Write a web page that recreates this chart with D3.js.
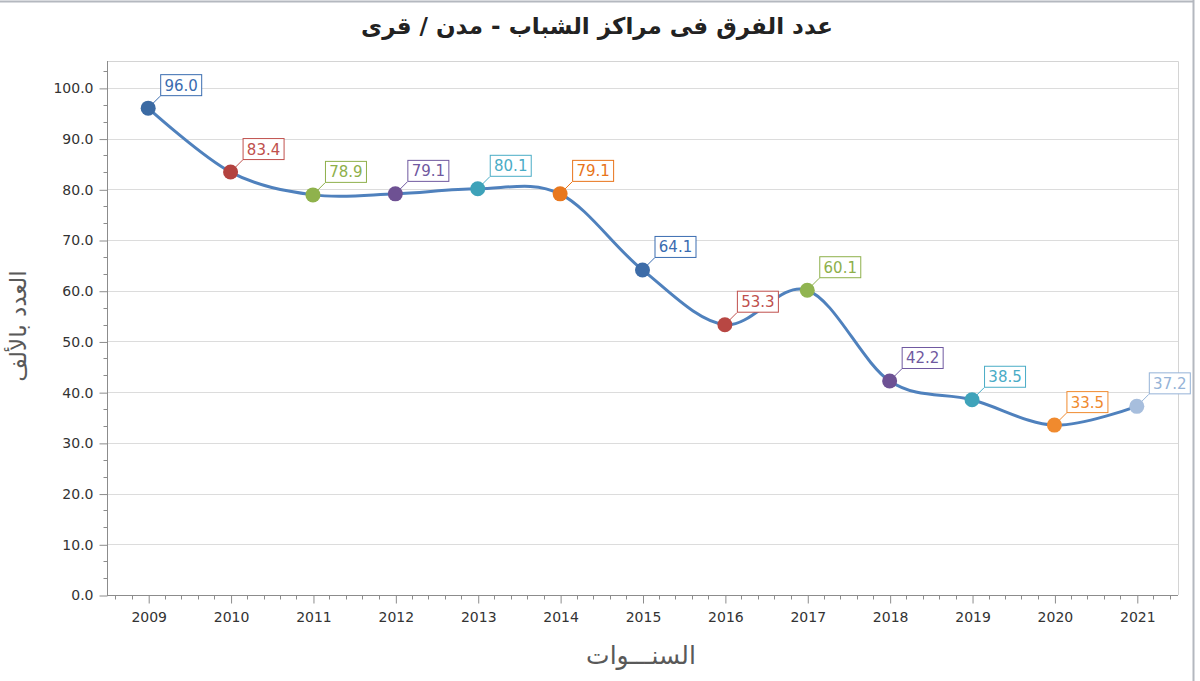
<!DOCTYPE html>
<html>
<head>
<meta charset="utf-8">
<script src="https://cdn.jsdelivr.net/npm/d3@7"></script>
<style>
  body { margin: 0; background: #fff; }
  svg { display: block; }
</style>
</head>
<body>
<script>
// chart values
var years = [2009, 2010, 2011, 2012, 2013, 2014, 2015, 2016, 2017, 2018, 2019, 2020, 2021];
var teams = [96.0, 83.4, 78.9, 79.1, 80.1, 79.1, 64.1, 53.3, 60.1, 42.2, 38.5, 33.5, 37.2];
var yTicks = [0, 10, 20, 30, 40, 50, 60, 70, 80, 90, 100];
var pointColors = ["#3b6aa3", "#b3423f", "#8fb24c", "#6e5193", "#3ea2b9", "#e8781f",
                   "#3d6ca8", "#b84743", "#90b450", "#6d5194", "#3fa3ba", "#f08a2e", "#a7bedd"];
var labelColors = ["#3a6cb0", "#c0504d", "#8eb04b", "#7059a0", "#4aacc6", "#e8741a",
                   "#3a6cb0", "#c0504d", "#8eb04b", "#7059a0", "#4aacc6", "#f08a2e", "#95b3d7"];
var title = "عدد الفرق فى مراكز الشباب - مدن / قرى";
var yTitle = "العدد بالألف";
var xTitle = "السنـــوات";

var W = 1200, H = 681;
var plotL = 107, plotR = 1178, plotT = 61, plotB = 595;

var svg = d3.select("body").append("svg")
    .attr("width", W)
    .attr("height", H);

// outer frame bits
svg.append("line").attr("x1", 0).attr("x2", 1194).attr("y1", 1.5).attr("y2", 1.5)
    .attr("stroke", "#b4b8bf").attr("stroke-width", 2);
svg.append("line").attr("x1", 1193.5).attr("x2", 1193.5).attr("y1", 0).attr("y2", H)
    .attr("stroke", "#b4b8bf").attr("stroke-width", 2);

var x = d3.scaleLinear().domain([2008.5, 2021.5]).range([plotL, plotR]);
var y = d3.scaleLinear().domain([0, 105.3]).range([plotB, plotT]);

// grid
svg.append("g").selectAll("line")
    .data(yTicks.filter(d => d > 0))
    .enter().append("line")
    .attr("x1", plotL).attr("x2", plotR)
    .attr("y1", d => Math.round(y(d)) + 0.5).attr("y2", d => Math.round(y(d)) + 0.5)
    .attr("stroke", "#dcdcdc");

// plot border top / right
svg.append("path")
    .attr("d", "M" + plotL + "," + (plotT + 0.5) + "H" + (plotR + 0.5) + "V" + plotB)
    .attr("fill", "none").attr("stroke", "#d4d4d4");

// y axis
var yAxis = d3.axisLeft(y).tickValues(yTicks).tickSize(8).tickPadding(6)
    .tickFormat(d3.format(".1f"));
var gy = svg.append("g").attr("transform", "translate(" + (plotL + 0.5) + ",0.5)").call(yAxis);
var yMinor = d3.range(1, 32).map(i => i * 10 / 3).filter(v => Math.abs(v / 10 - Math.round(v / 10)) > 0.01);
gy.selectAll(".minor").data(yMinor).enter().append("line").attr("class", "minor")
    .attr("x1", 0).attr("x2", -4)
    .attr("y1", d => Math.round(y(d))).attr("y2", d => Math.round(y(d)));
gy.select(".domain").attr("d", "M0," + (plotT - 0.5) + "V" + (plotB - 0.5));

// x axis
var xAxis = d3.axisBottom(x).tickValues(years).tickSize(8).tickPadding(9)
    .tickFormat(d3.format("d"));
var gx = svg.append("g").attr("transform", "translate(0.5," + (plotB + 0.5) + ")").call(xAxis);
var xMinor = d3.range(0, 65).map(i => 2008.6 + i * 0.2).filter(v => Math.abs(v - Math.round(v)) > 0.01);
gx.selectAll(".minor").data(xMinor).enter().append("line").attr("class", "minor")
    .attr("y1", 0).attr("y2", 4)
    .attr("x1", d => Math.round(x(d))).attr("x2", d => Math.round(x(d)));
gx.select(".domain").attr("d", "M" + (plotL - 0.5) + ",0H" + (plotR - 0.5));

svg.selectAll(".domain, .tick line, .minor").attr("stroke", "#8c8c8c");
svg.selectAll(".tick text")
    .attr("fill", "#333")
    .style("font-family", "DejaVu Sans, Verdana, sans-serif")
    .style("font-size", "14px");

// line
var line = d3.line()
    .x((d, i) => x(years[i]))
    .y(d => y(d))
    .curve(d3.curveCardinal.tension(0));
svg.append("path")
    .datum(teams)
    .attr("d", line)
    .attr("fill", "none")
    .attr("stroke", "#4f81bd")
    .attr("stroke-width", 3);

// points + labels
var pts = svg.append("g").selectAll("g")
    .data(teams)
    .enter().append("g")
    .attr("transform", (d, i) => "translate(" + x(years[i]) + "," + y(d) + ")");

pts.append("line")
    .attr("x1", 0).attr("y1", 0).attr("x2", 12).attr("y2", -12)
    .attr("stroke", (d, i) => labelColors[i]).attr("stroke-width", 1);

pts.append("circle")
    .attr("r", 7.5)
    .attr("fill", (d, i) => pointColors[i]);

pts.append("rect")
    .attr("x", 12.5).attr("y", -33.5)
    .attr("width", 41).attr("height", 21)
    .attr("fill", "#fff")
    .attr("stroke", (d, i) => labelColors[i]);

pts.append("text")
    .attr("x", 33).attr("y", -17.5)
    .attr("text-anchor", "middle")
    .attr("fill", (d, i) => labelColors[i])
    .style("font-family", "DejaVu Sans, Verdana, sans-serif")
    .style("font-size", "15px")
    .text(d => d3.format(".1f")(d));

// titles
svg.append("text")
    .attr("x", 597).attr("y", 34)
    .attr("text-anchor", "middle")
    .attr("fill", "#222")
    .style("font-family", "DejaVu Sans, sans-serif")
    .style("font-weight", "bold")
    .style("font-size", "23px")
    .text(title);

svg.append("text")
    .attr("transform", "translate(26,326) rotate(-90)")
    .attr("text-anchor", "middle")
    .attr("fill", "#595959")
    .style("font-family", "DejaVu Sans, sans-serif")
    .style("font-size", "23px")
    .text(yTitle);

svg.append("text")
    .attr("x", 641).attr("y", 664)
    .attr("text-anchor", "middle")
    .attr("fill", "#595959")
    .style("font-family", "DejaVu Sans, sans-serif")
    .style("font-size", "25px")
    .text(xTitle);
</script>
</body>
</html>
